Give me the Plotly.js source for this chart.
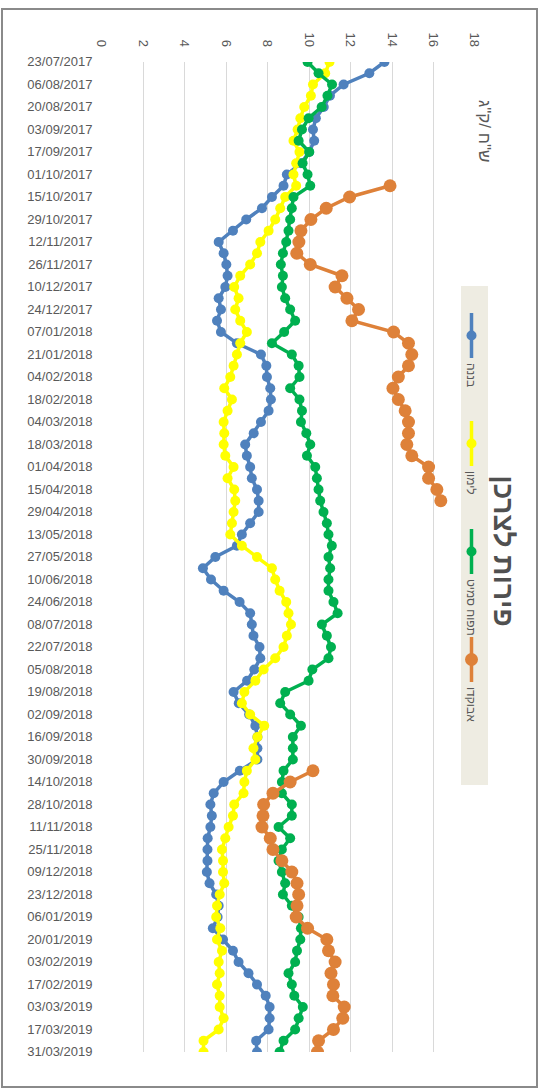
<!DOCTYPE html>
<html>
<head>
<meta charset="utf-8">
<script src="https://cdn.plot.ly/plotly-3.0.1.min.js"></script>
<style>
html, body { margin:0; padding:0; overflow:hidden; background:#fff; width:544px; height:1089px; }
#chart { position:absolute; left:0; top:0; width:1089px; height:544px; transform-origin:0 0; transform:translate(544px,0) rotate(90deg); }
#frame { position:absolute; left:1px; top:8px; width:537px; height:1080px; border:2px solid #8a8a8a; box-sizing:border-box; pointer-events:none; }
</style>
</head>
<body>
<div id="chart"></div>
<div id="frame"></div>
<script>
// weekly dates (Sundays)
const weeks = [
 '2017-07-23','2017-07-30','2017-08-06','2017-08-13','2017-08-20','2017-08-27','2017-09-03','2017-09-10','2017-09-17','2017-09-24',
 '2017-10-01','2017-10-08','2017-10-15','2017-10-22','2017-10-29','2017-11-05','2017-11-12','2017-11-19','2017-11-26','2017-12-03',
 '2017-12-10','2017-12-17','2017-12-24','2017-12-31','2018-01-07','2018-01-14','2018-01-21','2018-01-28','2018-02-04','2018-02-11',
 '2018-02-18','2018-02-25','2018-03-04','2018-03-11','2018-03-18','2018-03-25','2018-04-01','2018-04-08','2018-04-15','2018-04-22',
 '2018-04-29','2018-05-06','2018-05-13','2018-05-20','2018-05-27','2018-06-03','2018-06-10','2018-06-17','2018-06-24','2018-07-01',
 '2018-07-08','2018-07-15','2018-07-22','2018-07-29','2018-08-05','2018-08-12','2018-08-19','2018-08-26','2018-09-02','2018-09-09',
 '2018-09-16','2018-09-23','2018-09-30','2018-10-07','2018-10-14','2018-10-21','2018-10-28','2018-11-04','2018-11-11','2018-11-18',
 '2018-11-25','2018-12-02','2018-12-09','2018-12-16','2018-12-23','2018-12-30','2019-01-06','2019-01-13','2019-01-20','2019-01-27',
 '2019-02-03','2019-02-10','2019-02-17','2019-02-24','2019-03-03','2019-03-10','2019-03-17','2019-03-24','2019-03-31'
];

const banana = [
 13.63,12.9,11.66,11.0,10.7,10.32,10.18,10.24,10.0,9.6,
 8.92,8.76,8.2,7.72,6.96,6.32,5.63,5.87,6.0,6.06,
 5.95,5.63,5.74,5.55,5.74,6.51,7.67,7.93,7.96,8.12,
 8.15,8.04,7.67,7.32,6.91,6.99,7.15,7.23,7.48,7.56,
 7.56,7.15,6.75,6.51,5.47,4.87,5.26,5.87,6.64,7.15,
 7.23,7.31,7.6,7.64,7.35,7.0,6.35,6.6,7.1,7.4,
 7.5,7.5,7.5,6.65,5.87,5.39,5.23,5.3,5.23,5.1,
 5.09,5.09,5.06,5.19,5.51,5.63,5.58,5.35,5.84,6.32,
 6.59,7.07,7.48,7.9,8.09,8.09,8.04,7.44,7.48
];

const lemon = [
 10.98,10.77,10.18,10.08,9.76,9.57,9.44,9.24,9.53,9.37,
 9.24,9.37,8.84,8.6,8.36,8.04,7.64,7.48,7.15,6.67,
 6.38,6.59,6.43,6.67,6.99,6.67,6.51,6.35,6.19,5.9,
 6.27,6.06,5.87,5.9,5.87,5.95,6.35,6.06,6.38,6.43,
 6.35,6.27,6.19,6.75,7.48,8.2,8.36,8.57,8.89,9.0,
 9.12,8.92,8.76,8.36,7.8,7.4,6.87,6.75,7.15,7.83,
 7.5,7.31,7.4,6.99,6.87,6.83,6.38,6.32,6.11,5.95,
 5.79,5.84,5.84,5.9,5.68,5.55,5.51,5.71,5.55,5.79,
 5.63,5.68,5.55,5.68,5.68,5.87,5.63,4.9,4.9
];

const grannySmith = [
 9.92,10.45,11.1,10.88,10.6,9.97,9.65,9.49,10.0,9.68,
 9.92,10.05,9.24,9.16,9.08,9.0,8.89,8.73,8.63,8.73,
 8.68,8.84,9.08,9.32,8.79,8.2,9.16,9.49,9.53,9.08,
 9.53,9.65,9.6,9.86,10.05,9.89,10.29,10.37,10.45,10.53,
 10.69,10.85,10.93,11.09,10.93,11.01,10.93,10.93,11.17,11.37,
 10.61,10.85,11.05,10.93,10.15,9.97,8.84,8.6,9.08,9.6,
 9.21,9.21,9.21,8.76,8.68,8.68,9.16,9.16,8.52,9.08,
 8.68,8.52,8.68,8.84,8.73,9.16,9.49,9.6,9.57,9.41,
 9.32,9.0,9.16,9.28,9.69,9.49,9.32,8.76,8.57
];

const avocado = [
 null,null,null,null,null,null,null,null,null,null,
 null,13.9,11.95,10.82,10.08,9.6,9.5,9.4,10.05,11.58,
 11.25,11.82,12.38,12.06,14.07,14.79,14.95,14.79,14.3,14.04,
 14.3,14.63,14.79,14.79,14.71,14.95,15.76,15.76,16.16,16.35,
 null,null,null,null,null,null,null,null,null,null,
 null,null,null,null,null,null,null,null,null,null,
 null,null,null,10.18,9.08,8.25,7.8,7.77,7.72,8.12,
 8.25,8.68,9.16,9.41,9.49,9.41,9.37,9.92,10.85,10.93,
 11.25,11.05,11.17,11.14,11.69,11.62,11.17,10.45,10.4
];

const seriesNames = ['בננה', 'לימון', 'תפוח סמיט', 'אבוקדו'];
const chartTitle = 'פירות לצרכן';
const unitLabel = 'ש"ח /ק"ג';

const FONT = 'Arial, "Liberation Sans", "DejaVu Sans", sans-serif';
const GREY = '#595959';

function mk(name, y, color, msize) {
  return {
    type: 'scatter', mode: 'lines+markers', name: name,
    x: weeks, y: y,
    line: {color: color, width: 3.5},
    marker: {color: color, size: msize},
    connectgaps: false
  };
}

const data = [
  mk(seriesNames[0], banana, '#4F81BD', 10),
  mk(seriesNames[1], lemon, '#FFFF00', 10),
  mk(seriesNames[2], grannySmith, '#00B050', 10),
  mk(seriesNames[3], avocado, '#DE8139', 13)
];

const L = 62, R = 37, T = 69, B = 102, W = 1089, H = 544;
const pw = W - L - R, ph = H - T - B;

const layout = {
  width: W, height: H,
  margin: {l: L, r: R, t: T, b: B, pad: 0},
  paper_bgcolor: 'rgba(0,0,0,0)', plot_bgcolor: 'rgba(0,0,0,0)',
  font: {family: FONT, color: GREY, size: 13},
  title: {
    text: '<b>' + chartTitle + '</b>',
    font: {family: FONT, size: 28, color: '#505050'},
    xref: 'container', yref: 'container',
    x: 551 / W, y: 1 - 40 / H, xanchor: 'center', yanchor: 'middle'
  },
  xaxis: {
    type: 'date',
    range: [weeks[0], weeks[weeks.length - 1]],
    tick0: weeks[0], dtick: 14 * 86400000,
    tickformat: '%d/%m/%Y', tickangle: -90,
    showgrid: false, zeroline: false, showline: false, ticks: '',
    ticklabelstandoff: 6,
    tickfont: {family: FONT, size: 13, color: GREY}
  },
  yaxis: {
    range: [0, 18], dtick: 2, tick0: 0,
    showgrid: true, gridcolor: '#D9D9D9', gridwidth: 1,
    zeroline: false, showline: false, ticks: '',
    ticklabelstandoff: 14,
    tickfont: {family: FONT, size: 13, color: GREY}
  },
  showlegend: true,
  legend: {
    orientation: 'h', bgcolor: 'rgba(0,0,0,0)', borderwidth: 0,
    x: (308 - L) / pw, xanchor: 'left',
    y: 1 + (T - 58) / ph, yanchor: 'top',
    font: {family: FONT, size: 12, color: GREY},
    itemwidth: 45, entrywidth: 48, entrywidthmode: 'pixels'
  },
  shapes: [{
    type: 'rect', xref: 'paper', yref: 'paper', layer: 'above',
    x0: (286 - L) / pw, x1: (785 - L) / pw,
    y0: 1 + (T - 83) / ph, y1: 1 + (T - 56) / ph,
    fillcolor: '#EEECE2', line: {width: 0}
  }],
  annotations: [{
    text: unitLabel, showarrow: false,
    xref: 'paper', yref: 'paper',
    x: (131 - L) / pw, y: 1 + (T - 60) / ph,
    xanchor: 'center', yanchor: 'middle',
    font: {family: FONT, size: 17, color: GREY}
  }]
};

Plotly.newPlot('chart', data, layout, {staticPlot: true, displayModeBar: false, responsive: false});
</script>
</body>
</html>
